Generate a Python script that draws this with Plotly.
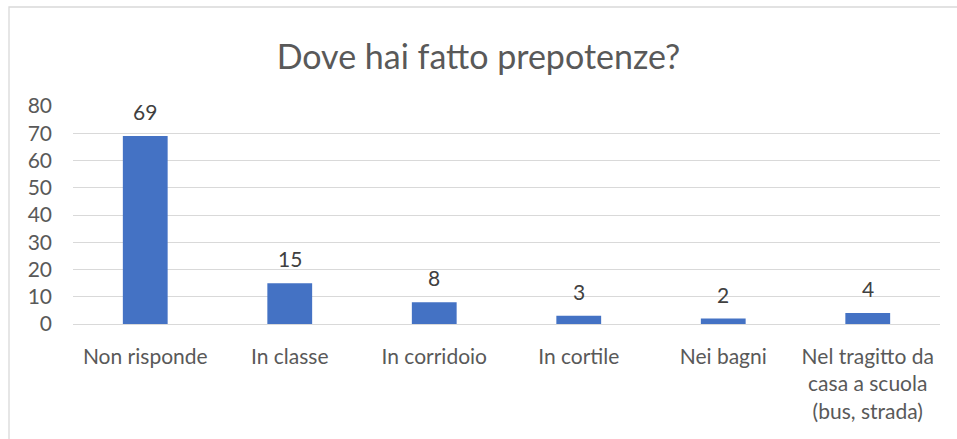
import plotly.graph_objects as go

categories = ["Non risponde", "In classe", "In corridoio", "In cortile", "Nei bagni",
              "Nel tragitto da<br>casa a scuola<br>(bus, strada)"]
values = [69, 15, 8, 3, 2, 4]
y_ticks = [0, 10, 20, 30, 40, 50, 60, 70, 80]

FONT = "Lato, Carlito, Calibri, sans-serif"

fig = go.Figure(go.Bar(
    x=categories, y=values,
    marker=dict(color="#4472C4", line=dict(width=0)),
    hoverinfo="skip",
))

for c, v in zip(categories, values):
    fig.add_annotation(x=c, y=v, text=str(v), showarrow=False,
                       xanchor="center", yanchor="bottom", yshift=10,
                       font=dict(family=FONT, size=21, color="#404040"))

W, H = 957, 439
ml, mr, mt, mb = 73, 17, 106, 115
pw, ph = W - ml - mr, H - mt - mb

fig.update_layout(
    width=W, height=H,
    margin=dict(l=ml, r=mr, t=mt, b=mb, pad=0),
    paper_bgcolor="white", plot_bgcolor="white",
    bargap=0.69,
    showlegend=False,
    title=dict(text="Dove hai fatto prepotenze?", x=0.5, xanchor="center",
               y=1 - 57 / H, yanchor="middle",
               font=dict(family=FONT, size=34, color="#595959")),
    xaxis=dict(showgrid=False, showline=False, ticks="", zeroline=False,
               tickfont=dict(family=FONT, size=21, color="#595959"),
               ticklabelstandoff=18),
    yaxis=dict(range=[0, 80], tickvals=y_ticks, showgrid=True,
               gridcolor="#D9D9D9", gridwidth=1, zeroline=True,
               zerolinecolor="#D9D9D9", zerolinewidth=1, showline=False,
               ticks="", ticklabelstandoff=20,
               tickfont=dict(family=FONT, size=21, color="#595959")),
    shapes=[dict(type="rect", xref="paper", yref="paper",
                 x0=(9 - ml) / pw, x1=(W + 5 - ml) / pw,
                 y0=(H - mb - (H + 5)) / ph, y1=(H - mb - 7) / ph,
                 line=dict(color="#D9D9D9", width=1.3), fillcolor="rgba(0,0,0,0)",
                 layer="below")],
)

fig.write_html("out.html", config={"displayModeBar": False},
               post_script="document.body.style.margin='0';document.body.style.padding='0';")
